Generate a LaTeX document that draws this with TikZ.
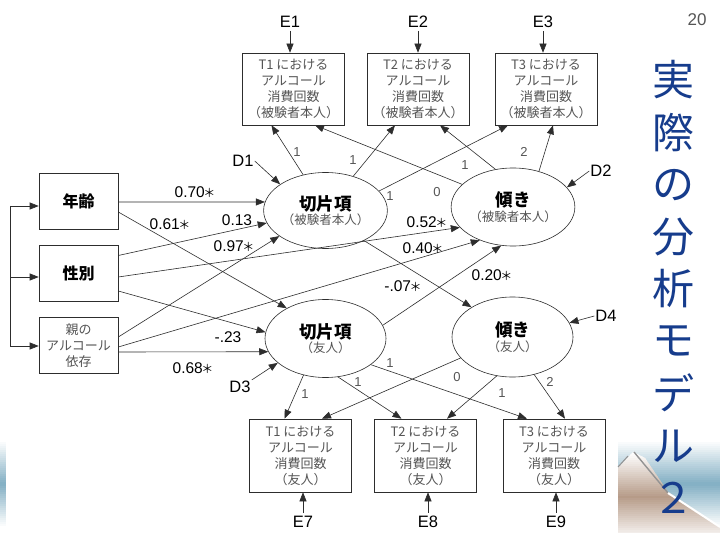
\documentclass[tikz,border=0pt]{standalone}
\usepackage{fontspec}
\setmainfont{Liberation Sans}
\newfontfamily\jp{Noto Sans CJK JP}
\usetikzlibrary{arrows.meta,shapes.geometric}
\definecolor{ttl}{RGB}{22,60,140}
\definecolor{boxtxt}{RGB}{85,85,85}
\definecolor{ln}{RGB}{45,45,45}
\definecolor{sky}{RGB}{115,165,188}
\definecolor{mtn}{RGB}{178,150,130}
\newcommand{\sig}{\kern-1.5pt{\jp\fontsize{12}{12}\selectfont ＊}}
\begin{document}
\begin{tikzpicture}[x=1pt,y=-1pt,
  conn/.style={draw=ln, line width=0.6pt, -{Triangle[length=9pt,width=7pt]}},
  obsbox/.style={draw=ln, line width=0.6pt, minimum width=102pt, minimum height=72pt, inner sep=0pt, align=center, font=\jp\fontsize{13}{16}\selectfont, text=boxtxt},
  leftbox/.style={draw=ln, line width=0.6pt, minimum width=79pt, minimum height=56pt, inner sep=0pt, align=center},
  latent/.style={draw=ln, line width=0.6pt, ellipse, minimum width=121pt, minimum height=78pt, inner sep=0pt, align=center},
  coef/.style={font=\fontsize{15.5}{15.5}\selectfont, text=black, inner sep=0pt},
  load/.style={font=\fontsize{13}{13}\selectfont, text=boxtxt, inner sep=0pt},
  errlab/.style={font=\fontsize{16.5}{16.5}\selectfont, inner sep=1pt},
  ttlchar/.style={font=\jp\fontsize{42}{42}\selectfont, text=ttl, inner sep=0pt}
]
\useasboundingbox (0,0) rectangle (720,540);
\fill[white] (0,0) rectangle (720,540);
% background decoration (gradients as strips)
\foreach \i in {0,...,43}{
  \pgfmathtruncatemacro\p{90*(1-abs(\i-21.5)/21.5)}
  \fill[sky!\p!white] (0,440+2*\i) rectangle (6,442.5+2*\i);
  \fill[sky!\p!white] (618,440+2*\i) rectangle (720,442.5+2*\i);
}
\begin{scope}
  \clip (618,468) -- (633,452) -- (645,458) -- (668,492) -- (720,527) -- (720,540) -- (618,540) -- cycle;
  \foreach \i in {0,...,44}{
    \pgfmathtruncatemacro\q{\i<22 ? 95*\i/22 : 95*(44-\i)/22}
    \fill[mtn!\q!white] (618,452+2*\i) rectangle (720,454.5+2*\i);
  }
\end{scope}
\fill[white] (618,533) rectangle (720,540);
\draw[gray!85, line width=1.4pt] (634,452) -- (668,493);
\draw[white, line width=2pt] (668,493) -- (720,527);
\draw[gray!85, line width=1pt] (618,467) -- (628,456);

% page number and title
\node[font=\fontsize{17}{17}\selectfont, text=boxtxt] (pg) at (697,20) {20};
\node[ttlchar] (c1) at (673,80) {実};
\node[ttlchar] (c2) at (673,133) {際};
\node[ttlchar] (c3) at (673,185) {の};
\node[ttlchar] (c4) at (673,237) {分};
\node[ttlchar] (c5) at (673,289) {析};
\node[ttlchar] (c6) at (673,341) {モ};
\node[ttlchar] (c7) at (673,393) {デ};
\node[ttlchar] (c8) at (673,446) {ル};
\node[ttlchar] (c9) at (673,498) {２};

% observed boxes (top)
\node[obsbox] (T1) at (293.5,89) {T1 における\\アルコール\\消費回数\\（被験者本人）};
\node[obsbox] (T2) at (418,89) {T2 における\\アルコール\\消費回数\\（被験者本人）};
\node[obsbox] (T3) at (546,89) {T3 における\\アルコール\\消費回数\\（被験者本人）};
% observed boxes (bottom)
\node[obsbox, minimum height=73pt] (T1f) at (300.5,455.5) {T1 における\\アルコール\\消費回数\\（友人）};
\node[obsbox, minimum height=73pt] (T2f) at (425.5,455.5) {T2 における\\アルコール\\消費回数\\（友人）};
\node[obsbox, minimum height=73pt] (T3f) at (554,455.5) {T3 における\\アルコール\\消費回数\\（友人）};

% left boxes
\node[leftbox, font=\jp\bfseries\fontsize{16}{16}\selectfont] (age) at (78.5,201) {年齢};
\node[leftbox, font=\jp\bfseries\fontsize{16}{16}\selectfont] (sex) at (78.5,273.5) {性別};
\node[leftbox, font=\jp\fontsize{13}{16}\selectfont, text=boxtxt] (par) at (78.5,345.5) {親の\\アルコール\\依存};

% latent ellipses
\node[latent, minimum height=76pt] (intS) at (325.5,210.5) {{\jp\bfseries\fontsize{17.5}{17.5}\selectfont 切片項}\\[1pt]{\jp\fontsize{12.5}{14}\selectfont\color{boxtxt}（被験者本人）}};
\node[latent] (slopeS) at (513,207) {{\jp\bfseries\fontsize{17.5}{17.5}\selectfont 傾き}\\[1pt]{\jp\fontsize{12.5}{14}\selectfont\color{boxtxt}（被験者本人）}};
\node[latent] (intF) at (325.5,338.5) {{\jp\bfseries\fontsize{17.5}{17.5}\selectfont 切片項}\\[1pt]{\jp\fontsize{12.5}{14}\selectfont\color{boxtxt}（友人）}};
\node[latent, minimum height=80pt] (slopeF) at (512.5,337) {{\jp\bfseries\fontsize{17.5}{17.5}\selectfont 傾き}\\[1pt]{\jp\fontsize{12.5}{14}\selectfont\color{boxtxt}（友人）}};

% left bracket
\coordinate (bk1) at (10,206);
\coordinate (bk2) at (10,277);
\coordinate (bk3) at (10,346);
\draw[draw=ln, line width=0.6pt] (bk1) -- (bk3);
\draw[conn] (bk1) -- (age.west |- bk1);
\draw[conn] (bk2) -- (sex.west |- bk2);
\draw[conn] (bk3) -- (par.west |- bk3);

% regressions
\draw[conn] ([yshift=-1pt]age.east) -- (intS.172);
\draw[conn] ([yshift=-11pt]age.east) -- (intF.142);
\draw[conn] ([yshift=18pt]sex.east) -- (intS.192);
\draw[conn] ([yshift=-3.5pt]sex.east) -- (slopeS.201);
\draw[conn] ([yshift=-17.5pt]sex.east) -- (intF.174);
\draw[conn] ([yshift=8.5pt]par.east) -- (intS.209);
\draw[conn] ([yshift=-1.5pt]par.east) -- (slopeS.225);
\draw[conn] ([yshift=-6.5pt]par.east) -- (intF.193);
\draw[conn] (intS.322) -- (slopeF.144);
\draw[conn] (intF.13) -- (slopeS.253);

% loadings (top)
\draw[conn] (intS.122) -- ([xshift=-22pt]T1.south);
\draw[conn] (intS.51) -- ([xshift=-23pt]T2.south);
\draw[conn] (intS.20) -- ([xshift=-38pt]T3.south);
\draw[conn] (slopeS.156) -- ([xshift=21.5pt]T1.south);
\draw[conn] (slopeS.115) -- ([xshift=22pt]T2.south);
\draw[conn] (slopeS.54) -- ([xshift=7pt]T3.south);
% loadings (bottom)
\draw[conn] (intF.239) -- ([xshift=-16pt]T1f.north);
\draw[conn] (intF.288) -- ([xshift=-24pt]T2f.north);
\draw[conn] (intF.330) -- ([xshift=-27pt]T3f.north);
\draw[conn] (slopeF.202) -- ([xshift=21.5pt]T1f.north);
\draw[conn] (slopeF.248) -- ([xshift=21.5pt]T2f.north);
\draw[conn] (slopeF.300) -- ([xshift=11pt]T3f.north);

% error terms
\node[errlab] (E1) at (290,22) {E1};
\node[errlab] (E2) at (418,22) {E2};
\node[errlab] (E3) at (543,22) {E3};
\node[errlab] (E7) at (303,522) {E7};
\node[errlab] (E8) at (428,522) {E8};
\node[errlab] (E9) at (556,522) {E9};
\draw[conn, shorten <=2pt] (E1.south) -- (E1.south |- T1.north);
\draw[conn, shorten <=2pt] (E2.south) -- (E2.south |- T2.north);
\draw[conn, shorten <=2pt] (E3.south) -- (E3.south |- T3.north);
\draw[conn, shorten <=2pt] (E7.north) -- (E7.north |- T1f.south);
\draw[conn, shorten <=2pt] (E8.north) -- (E8.north |- T2f.south);
\draw[conn, shorten <=2pt] (E9.north) -- (E9.north |- T3f.south);

% disturbances
\node[errlab] (D1) at (243,161) {D1};
\node[errlab] (D2) at (601,171) {D2};
\node[errlab] (D3) at (240,387) {D3};
\node[errlab] (D4) at (606,316) {D4};
\draw[conn] (D1.east) -- (intS.150);
\draw[conn] (D2.west) -- (slopeS.20);
\draw[conn] (D3.north east) -- (intF.207);
\draw[conn] (D4.west) -- (slopeF.14);

% coefficient labels
\node[coef] (k1) at (195,192) {0.70\sig};
\node[coef] (k2) at (170,224) {0.61\sig};
\node[coef] (k3) at (237,220) {0.13};
\node[coef] (k4) at (234,246) {0.97\sig};
\node[coef] (k5) at (427,222) {0.52\sig};
\node[coef] (k6) at (423,248) {0.40\sig};
\node[coef] (k7) at (403,286) {-.07\sig};
\node[coef] (k8) at (492,275) {0.20\sig};
\node[coef] (k9) at (228,337) {-.23};
\node[coef] (k10) at (193,368) {0.68\sig};

% loading labels
\node[load] (m1) at (297,152) {1};
\node[load] (m2) at (353,160) {1};
\node[load] (m3) at (390,196) {1};
\node[load] (m4) at (437,192) {0};
\node[load] (m5) at (465,165) {1};
\node[load] (m6) at (524,152) {2};
\node[load] (m7) at (305,394) {1};
\node[load] (m8) at (358,382) {1};
\node[load] (m9) at (390,363) {1};
\node[load] (m10) at (457,377) {0};
\node[load] (m11) at (502,393) {1};
\node[load] (m12) at (550,382) {2};
\end{tikzpicture}
\end{document}
